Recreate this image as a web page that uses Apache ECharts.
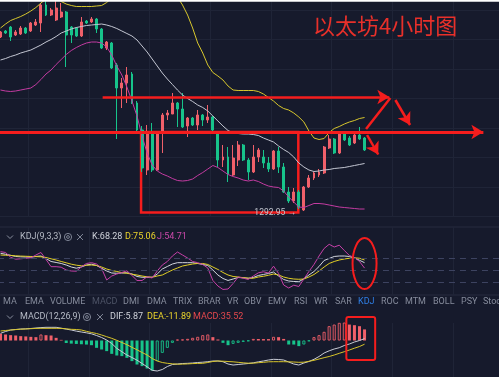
<!DOCTYPE html>
<html>
<head>
<meta charset="utf-8">
<script src="https://cdn.jsdelivr.net/npm/echarts@6/dist/echarts.min.js"></script>
<style>
html, body { margin: 0; padding: 0; background: #161a2c; }
#chart { width: 499px; height: 377px; }
</style>
</head>
<body>
<div id="chart"></div>
<script>
// ETH 4h candles, [open, close, low, high]
var candles = [
    [1641,1651,1639,1653],[1653,1649,1647,1655],[1661,1641,1633,1663],[1645,1651,1643,1655],
    [1647,1659,1645,1663],[1659,1649,1647,1661],[1653,1669,1651,1671],[1665,1671,1663,1677],
    [1669,1705,1651,1709],[1705,1685,1683,1718],[1685,1695,1683,1699],[1675,1699,1673,1718],
    [1681,1691,1679,1709],[1691,1645,1581,1693],[1661,1645,1629,1663],[1659,1643,1641,1661],
    [1643,1671,1641,1681],[1673,1669,1667,1675],[1671,1677,1669,1681],[1677,1657,1649,1679],
    [1657,1619,1617,1659],[1619,1631,1615,1633],[1629,1579,1577,1631],[1585,1539,1437,1589],
    [1539,1549,1499,1559],[1549,1565,1509,1581],[1567,1509,1507,1571],[1509,1455,1453,1513],
    [1455,1379,1371,1463],[1375,1451,1365,1465],[1451,1375,1371,1469],[1375,1451,1373,1453],
    [1451,1485,1409,1489],[1485,1489,1475,1495],[1487,1509,1487,1529],[1509,1497,1461,1511],
    [1497,1461,1459,1529],[1463,1479,1441,1481],[1479,1465,1463,1481],[1465,1485,1455,1495],
    [1485,1475,1463,1487],[1475,1481,1469,1505],[1481,1455,1453,1483],[1451,1395,1381,1453],
    [1395,1401,1381,1425],[1401,1367,1351,1421],[1365,1399,1363,1425],[1395,1425,1383,1433],
    [1425,1395,1393,1427],[1395,1371,1355,1399],[1371,1401,1369,1425],[1401,1415,1391,1419],
    [1401,1389,1379,1415],[1389,1377,1371,1401],[1377,1413,1375,1415],[1413,1381,1369,1421],
    [1381,1331,1329,1389],[1331,1313,1309,1341],[1313,1331,1309,1339],[1331,1301,1297,1335],
    [1295,1341,1292.95,1343],[1341,1359,1339,1365],[1359,1369,1355,1371],[1365,1371,1361,1377],
    [1369,1421,1367,1423],[1419,1437,1417,1445],[1437,1409,1407,1439],[1409,1447,1407,1449],
    [1447,1435,1433,1451],[1439,1425,1423,1443],[1429,1445,1427,1449],[1445,1437,1435,1461],
    [1439,1415,1413,1441]
];

// bollinger bands
var bollUp = [1659,1667,1674,1678,1682,1687,1693,1700,1709,1717,1723,1721,1712,1707,1704,1702,1702,1702,1702,1703,
    1704,1710,1719,1731,1745,1757,1771,1787,1801,1807,1809,1799,1779,1755,1735,1721,1705,1685,1659,1629,
    1609,1585,1570,1563,1555,1543,1535,1534,1534,1534,1534,1532,1527,1520,1513,1504,1498,1495,1489,1481,
    1471,1453,1439,1436,1438,1450,1458,1462,1467,1471,1474,1478,1480];
var bollMid = [1595,1598,1602,1605,1609,1612,1615,1620,1625,1631,1636,1642,1649,1653,1657,1660,1662,1664,1665,1666,
    1667,1665,1662,1658,1653,1648,1643,1635,1623,1611,1597,1583,1569,1557,1546,1535,1525,1518,1512,1505,
    1500,1493,1483,1473,1463,1454,1449,1448,1447,1447,1446,1444,1439,1435,1431,1423,1416,1410,1401,1389,
    1381,1375,1372,1373,1375,1376,1378,1379,1380,1382,1384,1386,1388];
var bollLow = [1535,1533,1532,1533,1535,1537,1539,1546,1556,1567,1575,1586,1596,1606,1614,1620,1625,1629,1631,1631,
    1629,1621,1605,1583,1565,1541,1513,1483,1443,1409,1385,1373,1367,1363,1358,1354,1353,1354,1357,1364,
    1370,1377,1384,1380,1373,1366,1362,1359,1355,1353,1355,1352,1347,1343,1341,1340,1333,1321,1311,1301,
    1300,1304,1308,1308,1307,1305,1303,1301,1300,1299,1298,1297,1297];

// KDJ(9,3,3)
var kLine = [91.8,89.3,86.8,83.8,83,82.5,82,83.8,85,78.8,71.3,68.8,66.3,62.5,57.5,54.5,57.5,62.5,64.5,61.3,
    54.3,47.5,42.5,41.8,42.5,43,40,33.8,31.8,31.8,31.8,40,52.5,58.8,65,68.3,68.3,68.3,68.3,66.3,
    63.8,61.3,50,37.5,28.8,23.8,27.5,31.3,30.5,29.3,31.3,36.3,38.8,41.3,45,35,26.3,22.5,21.3,20.8,
    28,37.5,46.3,58.8,73.8,78.8,83.8,85,85,83.8,80,74.3,68.28];
var dLine = [87.5,86.8,86.3,85.5,84.8,84.3,83.8,83.5,83,81.3,78,75,71.3,68,64.5,62,60.5,61.8,62.5,61.3,
    57.5,52.5,48.8,46.3,43.5,41.8,39.5,37.5,35,33,31.8,35,37.5,43.8,50,55,60,62.5,65,66.3,
    66.3,63.8,57.5,51.3,43.8,37.5,33.8,32.5,30.8,29.5,29.3,32.5,34.3,36.8,40,37.5,32.5,29.3,27.5,26.8,
    27.5,32.5,38.8,47.5,57.5,66.3,71.3,75,77.5,79.3,80.5,79.3,75.06];
var jLine = [95.8,93.8,81.8,77,78,79.3,80.5,87.5,93.8,76.3,58.3,58.3,57,50,47.5,47,58,66.3,68.3,65,
    53.8,25,35,40,43.8,48,36.3,23.8,23.8,33,30,47.5,62.5,71.3,85,95,87.5,80,71.3,68.3,
    63.8,55,23.8,10,1.3,2.5,16.3,32.5,29.5,26.3,35,43,45.5,42.5,59.5,41.3,12.5,5,12,8.8,
    27.5,46.3,63.8,85,103.8,114.3,107.5,112,98.8,86.3,81.3,71.3,54.71];

// MACD(12,26,9)
var dif = [23,28.8,33.6,35.2,36.8,37.4,38.4,40,41.3,42.2,42.2,42.2,39.5,36.5,33.5,30,27.2,24.6,21.4,16,
    9.6,1.6,-9.6,-25,-35.8,-46.4,-54.4,-63,-73.6,-84.2,-95.4,-97.6,-92.8,-83.2,-76.8,-75.2,-73.6,-73,-72,-70.4,
    -69.4,-67.8,-65.6,-65.6,-67.8,-75.2,-78.4,-76.8,-75.2,-73.6,-71.4,-68.2,-65.6,-62.4,-60.2,-60.8,-62.4,-68.8,-75.2,-78.4,
    -72,-67.2,-60.2,-51.2,-40,-33,-27.2,-23,-16,-11.2,-4.8,0,5.87];
var dea = [30.4,32,33.6,34.9,36.2,36.8,37.8,38.7,39,39,39,39,38.7,37.4,35.8,35.2,33.6,29.4,25.6,22.4,
    17.6,12.2,7,0.6,-6.4,-13.4,-21.8,-29.8,-38.4,-46.4,-57.6,-65.6,-70.4,-73,-74.6,-75.8,-75.5,-74.9,-73.9,-73.3,
    -73,-70.4,-67.2,-65.6,-66.2,-67.2,-68.2,-69.8,-71.4,-72.6,-72.6,-71,-69.8,-68.2,-67.8,-67.8,-67.8,-68.2,-68.8,-69.8,
    -69.4,-66.6,-63.4,-59.2,-55,-51.2,-46.4,-41,-35.8,-30.4,-24.6,-19.2,-11.89];
var macdBar = [21.3,19.2,17.1,16,13.9,13,11.7,10.7,19.2,17,16,8.5,2,-8,-10,-11,-12,-13,-15,-23.5,
    -28.8,-34,-42.7,-48,-50,-55.5,-66,-76.8,-82,-89.6,-96,-66,-39.5,-23.5,-7.5,3,3.5,5.3,8.5,11.7,
    17,19.2,10.7,3.2,-7.5,-15,-10.7,-7.5,-4.3,-2,5,4.8,4.6,4.5,11.7,10.7,5,-12.8,-13,-18,
    -12.8,-2,10.7,17,27.7,45.8,51,56.5,57.5,51,49,45.8,35.52];

var tabNames = ['MA','EMA','VOLUME','MACD','DMI','DMA','TRIX','BRAR','VR','OBV','EMV','RSI','WR','SAR','KDJ','ROC','MTM','BOLL','PSY','StochRSI'];
var tabLeft = [3,25,50,92,123,147,173,198,227,244,268,294,314,335,358,381,405,433,461,483];

var RED = '#f0606a', GREEN = '#17c48b', LINE_RED = '#f51d1d';
var GRID_L = -2.03, GRID_R = -4.6, N_SLOTS = 100;
var slots = [];
for (var s = 0; s < N_SLOTS; s++) slots.push(String(s));

var chart = echarts.init(document.getElementById('chart'));

function catAxis(gi) {
    return {
        type: 'category', gridIndex: gi, data: slots, boundaryGap: true,
        axisLine: { show: false }, axisTick: { show: false }, axisLabel: { show: false },
        splitLine: { show: true, interval: function (idx) { return idx % 12 === 6; }, lineStyle: { color: '#1f2437', width: 1 } }
    };
}
function lineSeries(name, data, color, xi, yi) {
    return {
        name: name, type: 'line', data: data, xAxisIndex: xi, yAxisIndex: yi,
        symbol: 'none', showSymbol: false, silent: true,
        lineStyle: { color: color, width: 1 }, z: 3
    };
}

var lowIdx = 0;
candles.forEach(function (c, i) { if (c[2] < candles[lowIdx][2]) lowIdx = i; });

var barData = macdBar.map(function (v, i) {
    var col = v >= 0 ? RED : GREEN;
    var hollow = i > 0 && v > macdBar[i - 1];
    return {
        value: v,
        itemStyle: hollow ? { color: 'rgba(0,0,0,0)', borderColor: col, borderWidth: 0.9 } : { color: col }
    };
});

// hand drawn arrows on the price panel, in [candle index, price]
var arrows = [
    { from: [20.2, 1521], to: [76.9, 1521], w: 2.5, head: true },
    { from: [-0.5, 1451], to: [95.5, 1451], w: 3, head: true },
    { from: [72.3, 1457], to: [77.1, 1519], w: 2.5, head: false },
    { from: [78.1, 1515], to: [81.0, 1465], w: 2.5, head: true },
    { from: [72.5, 1445], to: [74.7, 1406], w: 2.5, head: true }
];
var markLines = arrows.map(function (a) {
    return [
        { coord: a.from, symbol: 'none', lineStyle: { width: a.w, color: LINE_RED, type: 'solid' } },
        { coord: a.to, symbol: a.head ? 'arrow' : 'none', symbolSize: [11, 12] }
    ];
});

var font = 'Roboto, "Noto Sans", sans-serif';
function txt(x, y, s, color, size) {
    return {
        type: 'text', x: x, y: y, silent: true, z: 100,
        style: { text: s, fill: color, font: size + 'px ' + font, textAlign: 'left', textVerticalAlign: 'middle', align: 'left', verticalAlign: 'middle' }
    };
}
function panelHeader(y, label, labelX, gearX, crossX, items) {
    var g = [
        { type: 'polyline', silent: true, z: 100, shape: { points: [[7, y - 1.5], [10, y + 1.5], [13, y - 1.5]] }, style: { stroke: '#8a90a0', lineWidth: 1, fill: null } },
        txt(labelX, y, label, '#b5bac5', 9),
        { type: 'circle', silent: true, z: 100, shape: { cx: gearX, cy: y, r: 3.6 }, style: { stroke: '#7d8394', lineWidth: 1, fill: null } },
        { type: 'circle', silent: true, z: 100, shape: { cx: gearX, cy: y, r: 1.4 }, style: { stroke: '#7d8394', lineWidth: 1, fill: null } },
        { type: 'line', silent: true, z: 100, shape: { x1: crossX - 3, y1: y - 3, x2: crossX + 3, y2: y + 3 }, style: { stroke: '#7d8394', lineWidth: 1 } },
        { type: 'line', silent: true, z: 100, shape: { x1: crossX + 3, y1: y - 3, x2: crossX - 3, y2: y + 3 }, style: { stroke: '#7d8394', lineWidth: 1 } }
    ];
    items.forEach(function (it) { g.push(txt(it[0], y, it[1], it[2], 9)); });
    return g;
}
function last(a) { return a[a.length - 1].toFixed(2); }

var graphics = [
    { type: 'rect', silent: true, z: 100, shape: { x: 0, y: 0, width: 499, height: 1.7 }, style: { fill: '#ffffff' } },
    txt(313, 26, '以太坊4小时图', '#e8302a', 22)
];
graphics[1].style.font = '22px "Noto Sans CJK SC", sans-serif';
graphics = graphics.concat(panelHeader(237, 'KDJ(9,3,3)', 20, 68, 80, [
    [92, 'K:' + last(kLine), '#cfd2da'],
    [125, 'D:' + last(dLine), '#ecd52b'],
    [157, 'J:' + last(jLine), '#cc49ab']
]));
graphics = graphics.concat(panelHeader(317, 'MACD(12,26,9)', 20, 87, 100, [
    [110, 'DIF:' + last(dif), '#cfd2da'],
    [147, 'DEA:' + last(dea), '#ecd52b'],
    [193, 'MACD:' + last(macdBar), '#e5484d']
]));
tabNames.forEach(function (n, i) {
    var c = n === 'MACD' ? '#4d5366' : (n === 'KDJ' ? '#2f7fe6' : '#868c9c');
    graphics.push(txt(tabLeft[i], 302, n, c, 9));
});

var option = {
    backgroundColor: '#161a2c',
    animation: false,
    grid: [
        { left: GRID_L, right: GRID_R, top: 0, height: 216.5, outerBoundsMode: 'none', containLabel: false },
        { left: GRID_L, right: GRID_R, top: 227, height: 68, outerBoundsMode: 'none', containLabel: false,
          show: true, borderColor: '#262b3e', borderWidth: 1, backgroundColor: 'rgba(0,0,0,0)' },
        { left: GRID_L, right: GRID_R, top: 323, bottom: 0, outerBoundsMode: 'none', containLabel: false }
    ],
    xAxis: [
        catAxis(0),
        { type: 'value', gridIndex: 0, min: -0.5, max: N_SLOTS - 0.5, show: false },
        catAxis(1),
        catAxis(2)
    ],
    yAxis: [
        { type: 'value', gridIndex: 0, min: 1282, max: 1715, interval: 59,
          axisLine: { show: false }, axisTick: { show: false }, axisLabel: { show: false },
          splitLine: { show: true, lineStyle: { color: '#1f2437', width: 1 } } },
        { type: 'value', gridIndex: 1, min: -12.5, max: 157.5, show: false, splitLine: { show: false } },
        { type: 'value', gridIndex: 2, min: -116.8, max: 56, show: false, splitLine: { show: false } }
    ],
    graphic: graphics,
    series: [
        {
            name: 'ETH', type: 'candlestick', data: candles, xAxisIndex: 0, yAxisIndex: 0,
            barWidth: 2.4, silent: true,
            itemStyle: { color: RED, color0: GREEN, borderColor: RED, borderColor0: GREEN, borderWidth: 1 },
            markPoint: {
                silent: true, symbol: 'circle', symbolSize: 0,
                label: {
                    show: true, position: 'left', distance: 8, offset: [0, 1.5],
                    color: '#c3c7d0', fontSize: 8.5, fontFamily: font,
                    formatter: function (p) { return p.value.toFixed(2) + ' \u2192'; }
                },
                data: [{ coord: [lowIdx, candles[lowIdx][2]], value: candles[lowIdx][2] }]
            }
        },
        lineSeries('UP', bollUp, '#d6c62c', 0, 0),
        lineSeries('MB', bollMid, '#c3c6d2', 0, 0),
        lineSeries('DN', bollLow, '#c33ba1', 0, 0),
        {
            name: 'annot', type: 'line', xAxisIndex: 1, yAxisIndex: 0, data: [], silent: true, z: 10,
            markLine: {
                silent: true, animation: false, label: { show: false },
                lineStyle: { color: LINE_RED, width: 2.5, type: 'solid' },
                itemStyle: { color: LINE_RED },
                emphasis: { disabled: true },
                data: markLines
            },
            markArea: {
                silent: true, label: { show: false },
                itemStyle: { color: 'rgba(0,0,0,0)', borderColor: LINE_RED, borderWidth: 2.5 },
                data: [[{ coord: [27.8, 1451] }, { coord: [58.9, 1290] }]]
            }
        },
        (function () {
            var k = lineSeries('K', kLine, '#d3d6de', 2, 1);
            k.markLine = {
                silent: true, symbol: 'none', label: { show: false },
                lineStyle: { color: '#3d4360', width: 1, type: [6, 5] },
                data: [{ yAxis: 20 }, { yAxis: 50 }, { yAxis: 80 }]
            };
            return k;
        })(),
        lineSeries('D', dLine, '#e2cf26', 2, 1),
        lineSeries('J', jLine, '#c640a8', 2, 1),
        { name: 'MACD', type: 'bar', data: barData, xAxisIndex: 3, yAxisIndex: 2, barWidth: 3, silent: true },
        lineSeries('DIF', dif, '#c9ccd6', 3, 2),
        lineSeries('DEA', dea, '#d8c52a', 3, 2)
    ]
};

chart.setOption(option);

// circle around the KDJ cross and box around the last MACD bars
var px = function (i) { return chart.convertToPixel({ xAxisIndex: 1 }, i); };
var ex = px(72), ey = chart.convertToPixel({ yAxisIndex: 1 }, 66);
var bx0 = px(68.4), bx1 = px(74.1);
var by0 = chart.convertToPixel({ yAxisIndex: 2 }, 75), by1 = chart.convertToPixel({ yAxisIndex: 2 }, -62.4);
chart.setOption({
    graphic: graphics.concat([
        { type: 'ellipse', silent: true, z: 100, shape: { cx: ex, cy: ey, rx: 12, ry: 25.5 }, style: { stroke: LINE_RED, lineWidth: 2, fill: null } },
        { type: 'rect', silent: true, z: 100, shape: { x: bx0, y: by0, width: bx1 - bx0, height: by1 - by0, r: 2 }, style: { stroke: LINE_RED, lineWidth: 2, fill: null } }
    ])
});
</script>
</body>
</html>
